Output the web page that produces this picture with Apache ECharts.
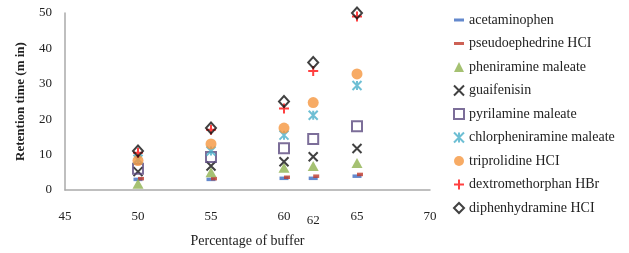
<!DOCTYPE html>
<html>
<head>
<meta charset="utf-8">
<script src="https://cdn.jsdelivr.net/npm/echarts@6/dist/echarts.min.js"></script>
<style>
  html, body { margin: 0; padding: 0; background: #fff; }
  #chart { width: 629px; height: 253px; }
</style>
</head>
<body>
<div id="chart"></div>
<script>
// buffer percentages
const buffer = [50, 55, 60, 62, 65];

// retention times (min)
const acetaminophen = [3.0, 3.0, 3.3, 3.3, 3.9];
const pseudoephedrine = [3.2, 3.2, 3.6, 3.9, 4.4];
const pheniramine = [1.8, 5.0, 6.3, 6.8, 7.6];
const guaifenisin = [5.2, 6.8, 8.0, 9.4, 11.7];
const pyrilamine = [6.0, 9.3, 11.8, 14.4, 18.0];
const chlorpheniramine = [8.7, 11.0, 15.5, 21.1, 29.5];
const triprolidine = [8.3, 13.0, 17.5, 24.7, 32.8];
const dextromethorphan = [10.5, 17.0, 23.0, 33.6, 49.0];
const diphenhydramine = [11.0, 17.5, 25.0, 36.0, 50.0];

const names = ['acetaminophen', 'pseudoephedrine HCI', 'pheniramine maleate', 'guaifenisin',
  'pyrilamine maleate', 'chlorpheniramine maleate', 'triprolidine HCI',
  'dextromethorphan HBr', 'diphenhydramine HCI'];

const serif = '"Liberation Serif", "DejaVu Serif", serif';

function pts(ys) {
  return buffer.map((x, i) => [x, ys[i]]);
}

const dash = 'path://M0,0H10V3H0Z';
const cross = 'path://M0,0L10,10M10,0L0,10';
const plus = 'path://M5,0L5,10M0,5L10,5';
const star = 'path://M0,0L10,10M10,0L0,10M5,0L5,10';

let series = [{
    name: names[0], data: pts(acetaminophen),
    symbol: 'rect', symbolSize: [9, 3.5],
    itemStyle: { color: '#3d6cc0' }
  }, {
    name: names[1], data: pts(pseudoephedrine),
    symbol: 'rect', symbolSize: [6, 3.5], symbolOffset: [3, 0],
    itemStyle: { color: '#c0392b' }
  }, {
    name: names[2], data: pts(pheniramine),
    symbol: 'triangle', symbolSize: [11, 10],
    itemStyle: { color: '#8fb14f' }
  }, {
    name: names[3], data: pts(guaifenisin),
    symbol: cross, symbolSize: 9,
    itemStyle: { color: 'rgba(0,0,0,0)', borderColor: '#111', borderWidth: 2 }
  }, {
    name: names[4], data: pts(pyrilamine),
    symbol: 'rect', symbolSize: 10,
    itemStyle: { color: 'rgba(255,255,255,0)', borderColor: '#5b4a80', borderWidth: 2 }
  }, {
    name: names[5], data: pts(chlorpheniramine),
    symbol: star, symbolSize: 9,
    itemStyle: { color: 'rgba(0,0,0,0)', borderColor: '#4aafc9', borderWidth: 2 }
  }, {
    name: names[6], data: pts(triprolidine),
    symbol: 'circle', symbolSize: 11,
    itemStyle: { color: '#f5963f' }
  }, {
    name: names[7], data: pts(dextromethorphan),
    symbol: plus, symbolSize: 10,
    itemStyle: { color: 'rgba(0,0,0,0)', borderColor: '#ff1010', borderWidth: 2 }
  }, {
    name: names[8], data: pts(diphenhydramine),
    symbol: 'diamond', symbolSize: [10, 11],
    itemStyle: { color: 'rgba(255,255,255,0)', borderColor: '#111', borderWidth: 2 }
  }];
series = series.map(s => Object.assign({ type: 'scatter', xAxisIndex: 0, animation: false }, s));

// legend entries; the two dash markers get a flat icon
const legendData = names.map((n, i) => (i < 2 ? { name: n, icon: dash } : { name: n }));

let myChart = echarts.init(document.getElementById('chart'));
myChart.setOption({
  textStyle: { fontFamily: serif },
  grid: { left: 65, right: 199, top: 13, bottom: 60 },
  legend: {
    orient: 'vertical',
    left: 453,
    top: 13,
    padding: 0,
    itemWidth: 10,
    itemHeight: 10,
    itemGap: 9.5,
    symbolKeepAspect: true,
    textStyle: { fontFamily: serif, fontSize: 14, color: '#222' },
    data: legendData
  },
  xAxis: [{
    type: 'value',
    min: 45,
    max: 70,
    interval: 5,
    name: 'Percentage of buffer',
    nameLocation: 'middle',
    nameGap: 44,
    nameTextStyle: { fontFamily: serif, fontSize: 14, color: '#222' },
    axisLine: { lineStyle: { color: '#aaa', width: 1.5 } },
    axisTick: { show: false },
    splitLine: { show: false },
    axisLabel: { fontFamily: serif, fontSize: 13, color: '#222', margin: 20 }
  }, {
    type: 'value',
    position: 'bottom',
    min: 45,
    max: 70,
    interval: 1,
    axisLine: { show: false },
    axisTick: { show: false },
    splitLine: { show: false },
    axisLabel: {
      fontFamily: serif, fontSize: 13, color: '#222', margin: 24,
      formatter: v => (v === 62 ? '62' : '')
    }
  }],
  yAxis: {
    type: 'value',
    min: 0,
    max: 50,
    interval: 10,
    name: 'Retention time (m in)',
    nameLocation: 'middle',
    nameGap: 38,
    nameTextStyle: { fontFamily: serif, fontSize: 13, fontWeight: 'bold', color: '#222' },
    axisLine: { show: true, lineStyle: { color: '#aaa', width: 1.5 } },
    axisTick: { show: false },
    splitLine: { show: false },
    axisLabel: { fontFamily: serif, fontSize: 13, color: '#222', margin: 13 }
  },
  series: series
});
</script>
</body>
</html>
